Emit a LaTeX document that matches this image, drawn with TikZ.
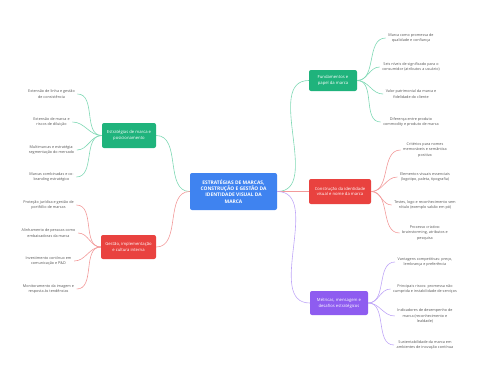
\documentclass[tikz,border=0pt]{standalone}
\usepackage{fontspec}
\setmainfont{Open Sans}
\definecolor{rootblue}{HTML}{3F83F0}
\definecolor{mintgreen}{HTML}{1FB37C}
\definecolor{mintline}{HTML}{7FD8B4}
\definecolor{coralred}{HTML}{E9423F}
\definecolor{coralline}{HTML}{F29A9A}
\definecolor{violet}{HTML}{8E5CF0}
\definecolor{violetline}{HTML}{BFA6F7}
\definecolor{leafgray}{HTML}{555555}
\tikzset{
  rootbox/.style={fill=rootblue, rounded corners=2pt, text=white, align=center,
    minimum width=87pt, minimum height=37pt, inner sep=1pt,
    font=\fontsize{4.9}{6.4}\selectfont\bfseries},
  branchbox/.style={rounded corners=2pt, text=white, align=center, inner sep=1pt,
    font=\fontsize{4.2}{5.8}\selectfont},
  leaftext/.style={text=leafgray, align=center, inner sep=2.5pt,
    font=\fontsize{3.75}{5.5}\selectfont},
  link/.style={line width=0.6pt},
}
\begin{document}
\begin{tikzpicture}[x=1pt,y=-1pt]
\useasboundingbox (0,0) rectangle (480,384);

% Root topic
\node[rootbox] (root) at (233.5,191.5) {ESTRATÉGIAS DE MARCAS,\\CONSTRUÇÃO E GESTÃO DA\\IDENTIDADE VISUAL DA\\MARCA};

% Branch topics
\node[branchbox, fill=mintgreen, minimum width=54pt, minimum height=25pt] (posic) at (129,135.5) {Estratégias de marca e\\posicionamento};
\node[branchbox, fill=coralred, minimum width=55pt, minimum height=24pt] (gestao) at (128.5,247) {Gestão, implementação\\e cultura interna};
\node[branchbox, fill=mintgreen, minimum width=48pt, minimum height=21pt] (fund) at (333,80.5) {Fundamentos e\\papel da marca};
\node[branchbox, fill=coralred, minimum width=62pt, minimum height=25pt] (ident) at (340,191.5) {Construção da identidade\\visual e nome da marca};
\node[branchbox, fill=violet, minimum width=58pt, minimum height=24pt] (metr) at (339,303) {Métricas, mensagem e\\desafios estratégicos};

% Root to branches
\draw[link, mintline] (root.west) to[out=180,in=0] (posic.east);
\draw[link, coralline] (root.west) to[out=180,in=0] (gestao.east);
\draw[link, mintline] (root.east) to[out=0,in=180] (fund.west);
\draw[link, coralline] (root.east) to[out=0,in=180] (ident.west);
\draw[link, violetline] (root.east) to[out=0,in=180] (metr.west);

% Leaves of Estratégias de marca e posicionamento
\node[leaftext] (posic1) at (51.5,94) {Extensão de linha e gestão\\de consistência};
\node[leaftext] (posic2) at (51.5,122) {Extensão de marca e\\riscos de diluição};
\node[leaftext] (posic3) at (51.5,150) {Multimarcas e estratégia:\\segmentação do mercado};
\node[leaftext] (posic4) at (51.5,177) {Marcas combinadas e co-\\branding estratégico};
\draw[link, mintline] (posic.west) to[out=180,in=0] (posic1.east);
\draw[link, mintline] (posic.west) to[out=180,in=0] (posic2.east);
\draw[link, mintline] (posic.west) to[out=180,in=0] (posic3.east);
\draw[link, mintline] (posic.west) to[out=180,in=0] (posic4.east);

% Leaves of Gestão, implementação e cultura interna
\node[leaftext] (gestao1) at (48.5,205) {Proteção jurídica e gestão de\\portfólio de marcas};
\node[leaftext] (gestao2) at (48.5,233) {Alinhamento de pessoas como\\embaixadoras da marca};
\node[leaftext] (gestao3) at (48.5,261) {Investimento contínuo em\\comunicação e P\&D};
\node[leaftext] (gestao4) at (48.5,289) {Monitoramento da imagem e\\resposta às tendências};
\draw[link, coralline] (gestao.west) to[out=180,in=0] (gestao1.east);
\draw[link, coralline] (gestao.west) to[out=180,in=0] (gestao2.east);
\draw[link, coralline] (gestao.west) to[out=180,in=0] (gestao3.east);
\draw[link, coralline] (gestao.west) to[out=180,in=0] (gestao4.east);

% Leaves of Fundamentos e papel da marca
\node[leaftext] (fund1) at (411,38) {Marca como promessa de\\qualidade e confiança};
\node[leaftext] (fund2) at (411,67) {Seis níveis de significado para o\\consumidor (atributos a usuário)};
\node[leaftext] (fund3) at (411,94) {Valor patrimonial da marca e\\fidelidade do cliente};
\node[leaftext] (fund4) at (411,122) {Diferença entre produto\\commodity e produto de marca};
\draw[link, mintline] (fund.east) to[out=0,in=180] (fund1.west);
\draw[link, mintline] (fund.east) to[out=0,in=180] (fund2.west);
\draw[link, mintline] (fund.east) to[out=0,in=180] (fund3.west);
\draw[link, mintline] (fund.east) to[out=0,in=180] (fund4.west);

% Leaves of Construção da identidade visual e nome da marca
\node[leaftext] (ident1) at (425,150) {Critérios para nomes\\memoráveis e semântica\\positiva};
\node[leaftext] (ident2) at (425,177) {Elementos visuais essenciais\\(logotipo, paleta, tipografia)};
\node[leaftext] (ident3) at (425,205) {Testes, logo e reconhecimento sem\\rótulo (exemplo sabão em pó)};
\node[leaftext] (ident4) at (425,233) {Processo criativo:\\brainstorming, atributos e\\pesquisa};
\draw[link, coralline] (ident.east) to[out=0,in=180] (ident1.west);
\draw[link, coralline] (ident.east) to[out=0,in=180] (ident2.west);
\draw[link, coralline] (ident.east) to[out=0,in=180] (ident3.west);
\draw[link, coralline] (ident.east) to[out=0,in=180] (ident4.west);

% Leaves of Métricas, mensagem e desafios estratégicos
\node[leaftext] (metr1) at (425,262) {Vantagens competitivas: preço,\\lembrança e preferência};
\node[leaftext] (metr2) at (425,289) {Principais riscos: promessa não\\cumprida e instabilidade de serviços};
\node[leaftext] (metr3) at (425,316) {Indicadores de desempenho de\\marca (reconhecimento e\\lealdade)};
\node[leaftext] (metr4) at (425,345) {Sustentabilidade da marca em\\ambientes de inovação contínua};
\draw[link, violetline] (metr.east) to[out=0,in=180] (metr1.west);
\draw[link, violetline] (metr.east) to[out=0,in=180] (metr2.west);
\draw[link, violetline] (metr.east) to[out=0,in=180] (metr3.west);
\draw[link, violetline] (metr.east) to[out=0,in=180] (metr4.west);

\end{tikzpicture}
\end{document}
